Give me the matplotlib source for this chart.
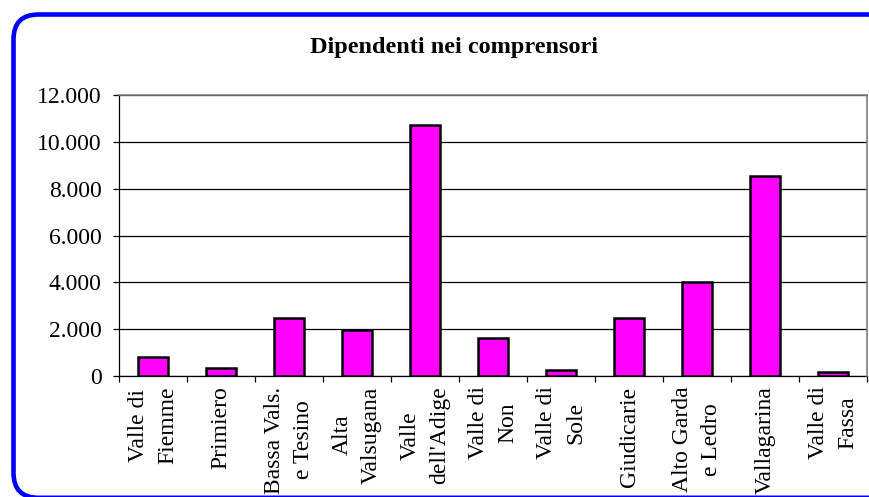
import numpy as np
import matplotlib
matplotlib.use("Agg")
import matplotlib.pyplot as plt
from matplotlib.patches import FancyBboxPatch
from matplotlib.ticker import FuncFormatter

# dati
comprensori = ["Valle di\nFiemme", "Primiero", "Bassa Vals.\ne Tesino", "Alta\nValsugana",
               "Valle\ndell'Adige", "Valle di\nNon", "Valle di\nSole", "Giudicarie",
               "Alto Garda\ne Ledro", "Vallagarina", "Valle di\nFassa"]
dipendenti = [800, 360, 2490, 1980, 10700, 1640, 270, 2490, 4010, 8550, 185]
y_ticks = [0, 2000, 4000, 6000, 8000, 10000, 12000]

plt.rcParams['font.family'] = ['Liberation Serif', 'DejaVu Serif']

fig = plt.figure(figsize=(8.69, 4.97), dpi=100)
ax = fig.add_axes([119 / 869, 1 - 376 / 497, 748 / 869, 281 / 497])

x = np.arange(len(comprensori))
ax.bar(x, dipendenti, width=0.43, color='#FF00FF', edgecolor='black', linewidth=1.8, zorder=3)

ax.set_xlim(-0.5, len(comprensori) - 0.5)
ax.set_ylim(0, 12000)
ax.set_yticks(y_ticks)
ax.yaxis.set_major_formatter(FuncFormatter(lambda v, p: f"{int(v):,}".replace(",", ".")))
ax.tick_params(axis='y', direction='out', length=4, width=0.9, pad=8.5, labelsize=17)

ax.set_xticks(x)
ax.set_xticklabels(comprensori, rotation=90, ha='center', va='top',
                   multialignment='center', linespacing=1.5)
ax.set_xticks(np.arange(len(comprensori) + 1) - 0.5, minor=True)
ax.tick_params(axis='x', which='major', length=0, pad=7.5, labelsize=17)
ax.tick_params(axis='x', which='minor', direction='out', length=4.5, width=0.9)

ax.yaxis.grid(True, color='black', linewidth=0.9, zorder=1)
ax.set_axisbelow(True)
for s in ['left', 'bottom']:
    ax.spines[s].set_color('black')
    ax.spines[s].set_linewidth(0.9)
for s in ['top', 'right']:
    ax.spines[s].set_color('#808080')
    ax.spines[s].set_linewidth(1.2)
    ax.spines[s].set_zorder(5)

fig.text(454 / 869, 1 - 48 / 497, "Dipendenti nei comprensori", ha='center', va='center',
         fontsize=17.5, fontweight='bold')

# cornice blu arrotondata
bordo = FancyBboxPatch((0.135, -0.008), 8.80, 4.833,
                       boxstyle="round,pad=0,rounding_size=0.25",
                       transform=fig.dpi_scale_trans, facecolor='none',
                       edgecolor='#0000FF', linewidth=3.3, clip_on=False)
fig.patches.append(bordo)

fig.savefig("out.png", dpi=100)
